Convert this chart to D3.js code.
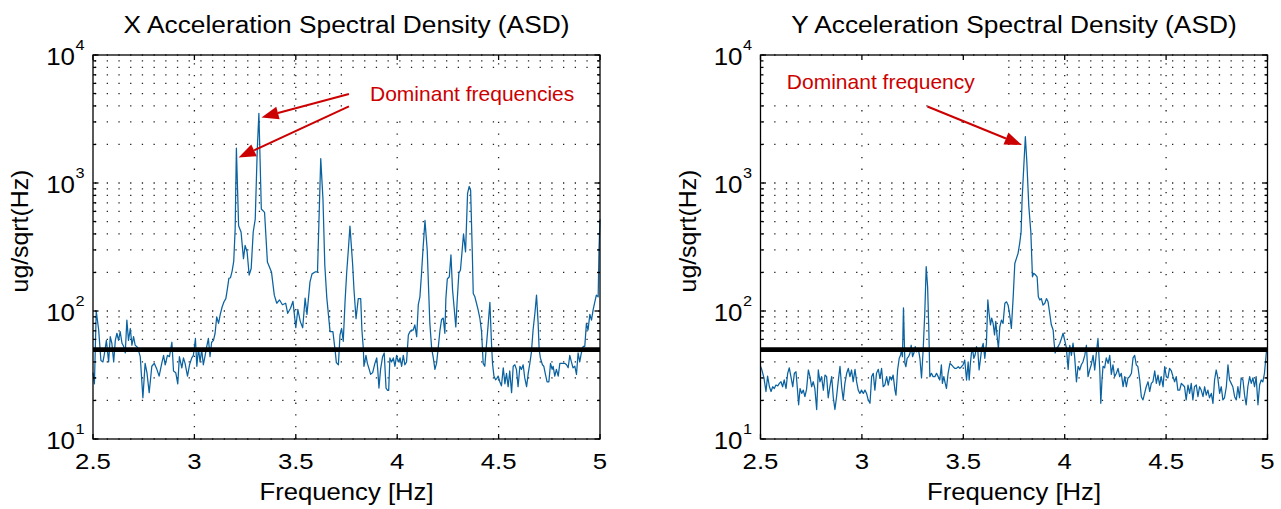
<!DOCTYPE html>
<html><head><meta charset="utf-8">
<script src="https://cdn.jsdelivr.net/npm/d3@7"></script>
<style>body{margin:0;background:#fff}svg{display:block}</style>
</head><body>
<svg id="c" width="1281" height="509"></svg>
<script>
// ---------- data ----------
const freqX = [2.500,2.507,2.516,2.528,2.539,2.549,2.556,2.566,2.577,2.585,2.593,2.602,2.610,2.618,2.626,2.634,2.643,2.651,2.659,2.667,2.675,2.684,2.692,2.700,2.708,2.720,2.733,2.746,2.757,2.766,2.777,2.790,2.802,2.815,2.826,2.839,2.848,2.856,2.867,2.877,2.889,2.897,2.908,2.918,2.926,2.938,2.946,2.954,2.966,2.976,2.987,2.995,3.005,3.012,3.020,3.028,3.036,3.044,3.053,3.061,3.069,3.077,3.085,3.094,3.102,3.110,3.119,3.128,3.137,3.146,3.155,3.163,3.170,3.178,3.186,3.194,3.201,3.207,3.218,3.230,3.242,3.250,3.260,3.270,3.280,3.290,3.300,3.310,3.318,3.330,3.346,3.360,3.380,3.394,3.406,3.420,3.434,3.450,3.460,3.474,3.486,3.500,3.510,3.522,3.534,3.546,3.555,3.570,3.580,3.595,3.607,3.623,3.634,3.643,3.653,3.669,3.683,3.694,3.700,3.710,3.718,3.726,3.734,3.743,3.751,3.759,3.767,3.780,3.787,3.797,3.808,3.820,3.826,3.833,3.836,3.846,3.853,3.862,3.869,3.879,3.890,3.899,3.904,3.910,3.918,3.928,3.936,3.945,3.953,3.958,3.964,3.972,3.981,3.989,3.997,4.005,4.014,4.022,4.030,4.038,4.046,4.055,4.063,4.071,4.079,4.087,4.096,4.104,4.112,4.120,4.128,4.137,4.148,4.155,4.161,4.170,4.178,4.186,4.194,4.202,4.211,4.219,4.227,4.235,4.240,4.247,4.257,4.265,4.273,4.281,4.289,4.296,4.304,4.312,4.319,4.327,4.337,4.347,4.355,4.362,4.370,4.375,4.383,4.391,4.399,4.408,4.416,4.424,4.432,4.440,4.449,4.457,4.465,4.470,4.477,4.485,4.490,4.498,4.506,4.514,4.523,4.531,4.539,4.547,4.555,4.564,4.572,4.580,4.588,4.596,4.605,4.613,4.621,4.629,4.638,4.646,4.654,4.662,4.670,4.679,4.687,4.695,4.700,4.706,4.716,4.723,4.731,4.739,4.748,4.756,4.764,4.769,4.777,4.785,4.794,4.802,4.810,4.818,4.826,4.835,4.843,4.851,4.859,4.867,4.876,4.884,4.892,4.900,4.908,4.917,4.925,4.933,4.941,4.950,4.958,4.966,4.974,4.982,4.991,4.995,5.000];
const asdX = [33,27,100,71,41,40,46,59,40,63,56,40,59,67,59,69,56,53,47,85,59,73,54,63,54,52,44,21,39,33,23,37,39,35,31,39,45,38,45,44,57,34,33,27,44,36,43,39,31,38,43,45,61,37,51,40,50,38,45,53,61,44,57,59,67,90,80,95,108,118,125,150,180,182,205,245,437,1870,464,414,256,325,289,191,215,414,523,1830,3500,627,589,241,202,133,115,122,112,115,96,105,119,74,103,83,74,126,94,169,195,202,202,1550,747,228,126,69,69,49,39.5,38,65,73,58,120,200,300,460,235,146,87,125,125,71,51,37,45,39,35,32,33,39,43,35,25,35,44,47,25,24,24,43,40,43,37,45,40,43,37,45,38,40,65,69,71,71,78,63,112,129,197,318,510,300,146,80,51,43,35,39,51,71,86,88,67,125,178,185,275,146,105,75,122,197,209,282,400,290,830,940,880,300,137,129,115,102,87,69,39,37,54,80,117,56,39,31,29,29.5,31,28,26,36,27,32.6,25.6,34,23,37,38,35,25.6,37,35,38,30,25.6,32.6,39,48,71,96,133,80,50,43,38,37,32,28,28,39,35,37,31,35,31,39,39,39,39,38,36,45,40,36,37,32,47,40,47,53,53,80,71,94,85,102,117,133,129,300,520];

const freqY = [2.500,2.506,2.517,2.527,2.535,2.544,2.552,2.560,2.568,2.576,2.585,2.593,2.601,2.609,2.617,2.626,2.634,2.642,2.650,2.659,2.667,2.675,2.683,2.688,2.695,2.703,2.711,2.719,2.727,2.736,2.744,2.752,2.760,2.768,2.777,2.785,2.793,2.801,2.810,2.818,2.826,2.834,2.842,2.851,2.859,2.867,2.875,2.883,2.892,2.900,2.908,2.916,2.925,2.933,2.941,2.949,2.957,2.966,2.974,2.982,2.990,2.998,3.007,3.015,3.023,3.031,3.040,3.048,3.056,3.064,3.072,3.081,3.089,3.097,3.105,3.113,3.122,3.130,3.138,3.146,3.154,3.163,3.168,3.176,3.184,3.191,3.195,3.200,3.205,3.212,3.217,3.223,3.230,3.237,3.243,3.250,3.256,3.263,3.269,3.278,3.286,3.294,3.302,3.310,3.317,3.324,3.330,3.335,3.343,3.351,3.360,3.368,3.376,3.384,3.392,3.397,3.404,3.411,3.417,3.425,3.434,3.442,3.450,3.458,3.466,3.475,3.483,3.491,3.499,3.507,3.516,3.524,3.529,3.535,3.540,3.545,3.552,3.558,3.565,3.572,3.578,3.585,3.591,3.598,3.606,3.614,3.621,3.627,3.634,3.640,3.647,3.654,3.660,3.667,3.673,3.680,3.688,3.696,3.705,3.713,3.721,3.729,3.737,3.746,3.754,3.762,3.770,3.778,3.785,3.790,3.800,3.806,3.813,3.823,3.833,3.841,3.847,3.857,3.864,3.870,3.877,3.885,3.893,3.902,3.910,3.918,3.926,3.934,3.943,3.948,3.953,3.959,3.967,3.976,3.984,3.992,4.000,4.008,4.017,4.025,4.033,4.041,4.049,4.058,4.066,4.074,4.082,4.090,4.099,4.107,4.115,4.123,4.131,4.140,4.148,4.156,4.164,4.173,4.178,4.184,4.189,4.197,4.205,4.214,4.222,4.230,4.238,4.246,4.255,4.263,4.271,4.279,4.288,4.296,4.304,4.312,4.320,4.329,4.337,4.345,4.353,4.361,4.370,4.378,4.386,4.394,4.402,4.411,4.419,4.427,4.435,4.444,4.452,4.460,4.468,4.476,4.485,4.493,4.501,4.509,4.517,4.526,4.534,4.542,4.550,4.558,4.567,4.575,4.583,4.591,4.599,4.608,4.616,4.624,4.632,4.640,4.649,4.657,4.665,4.673,4.682,4.690,4.698,4.706,4.714,4.723,4.731,4.739,4.747,4.755,4.764,4.772,4.780,4.788,4.797,4.805,4.813,4.821,4.829,4.838,4.846,4.854,4.862,4.870,4.879,4.887,4.895,4.903,4.912,4.920,4.928,4.936,4.944,4.953,4.961,4.969,4.977,4.985,4.994,5.000];
const asdY = [37,35,30,23.5,31,25.6,23.5,25.6,24.8,26.4,26,27.2,28,25.6,29,24.8,32.6,36,30.7,25.6,32.6,33.5,23.5,18.5,24.8,22.7,24.1,21.4,24.4,34.6,30.7,25.6,28,24.8,17,34.6,28,30.7,24.1,31.6,30.7,21,25.6,30.7,21,17,21.4,28,37,25.6,20.2,27.2,32.6,35.6,30.7,34.6,28,35,28,24.1,22.7,24.1,22.7,24.1,22.7,20.2,19,30.7,32.6,24.1,32.6,35,29.7,35.6,25.6,26.4,30.7,26.4,30.7,28.9,31.6,24.1,22,34.6,42.7,45.3,49.6,44,106,39,36.7,42.7,44,46.7,54,44,46.7,52.6,48,51,42.7,30,49.6,96,222,155,71,30.7,32.6,30.7,30.7,32.6,30.7,28.9,38,27.2,30.7,27.2,24.8,32.6,39,38,36.7,35.6,35.6,36.7,35.6,36.7,38,41.4,28.9,40,28.9,39,46.7,51,42.7,45.3,52.6,48,34.6,42.7,51,55.9,42.7,55.9,122,96,78,88,80,65,83,63,51,75,85,80,115,118,111,93,73,129,235,258,282,338,414,747,1524,2300,1500,660,414,185,197,191,185,129,122,125,111,115,125,118,96,78,71,56,47,51,52.6,56,61,67,59,52,35,54,45,56,44,28,37,34.6,38,40,45,54,30.7,34.6,38,45,34.6,47,61,34.6,19,29,37,36,43,39,45,32,38,30.7,32.6,35.6,30.7,32.6,25.6,30.7,25.6,30,30.7,32.6,43,45,38,36.7,28.9,21.4,20.2,22.7,25.6,28,23.5,27.2,28,34,27.2,31.6,26.4,30.7,25.6,36.7,30.7,30,35.6,34,30.7,28,30.7,24.1,24.1,27.2,26.4,25.6,20.2,26.4,22.7,27.2,20.2,25.6,26.4,21.4,25.6,24.1,21.4,25.6,22,24.1,21,22.7,19,28.9,34.6,30,22.7,25.6,20.2,21,25.6,38,28.9,27.2,25.6,21.4,20.2,25.6,21,30,28.9,22,18.5,25.6,30.7,27.2,30,25.6,30.7,18.5,26.4,28.9,28,32.6,47,52];

const xTickValues = [2.5, 3, 3.5, 4, 4.5, 5];
const xTickLabels = ["2.5", "3", "3.5", "4", "4.5", "5"];
const yTickValues = [10, 100, 1000, 10000];
const yTickExponents = ["1", "2", "3", "4"];
const xGridValues = [3, 3.5, 4, 4.5];
const threshold = 50;

const titles = ["X Acceleration Spectral Density (ASD)", "Y Acceleration Spectral Density (ASD)"];
const xLabel = "Frequency [Hz]";
const yLabel = "ug/sqrt(Hz)";

// annotations in data coordinates
const notesX = {text: "Dominant frequencies", at: [3.866, 4375], box: [[3.777, 7112], [4.985, 3590]],
  arrows: [[[3.762, 4955], [3.331, 3250]], [[3.762, 3963], [3.218, 1581]]]};
const notesY = {text: "Dominant frequency", at: [2.630, 5420], box: [[2.507, 9680], [3.704, 4445]],
  arrows: [[[3.323, 3963], [3.788, 1982]]]};

// ---------- drawing ----------
const svg = d3.select("#c");
const FONT = "'Liberation Sans', Arial, Helvetica, sans-serif";
const RED = "#cc0000";
const BLUE = "#0a62a0";

function txt(g, x, y, s, size, sx, anchor, rot) {
  return g.append("text")
    .attr("transform", `translate(${x},${y})` + (rot ? ` rotate(${rot})` : "") + ` scale(${sx},1)`)
    .attr("font-family", FONT).attr("font-size", size)
    .attr("text-anchor", anchor || "start").attr("fill", "#000").text(s);
}

function panel(left, right, freq, vals, title, notes) {
  const top = 55, bottom = 439;
  const x = d3.scaleLinear().domain([2.5, 5]).range([left, right]);
  const y = d3.scaleLog().domain([10, 10000]).range([bottom, top]);
  const g = svg.append("g");

  // grid
  const minor = [];
  [10, 100, 1000].forEach(d => { for (let k = 1; k <= 9; k++) minor.push(d * k); });
  minor.push(10000);
  const grid = g.append("g").attr("stroke", "#222").attr("stroke-width", 1.3)
    .attr("stroke-dasharray", "1.3,10.4");
  grid.selectAll("line.h").data(minor).join("line").attr("class", "h")
    .attr("x1", left + 2).attr("x2", right).attr("y1", d => y(d)).attr("y2", d => y(d));
  grid.selectAll("line.v").data(xGridValues).join("line").attr("class", "v")
    .attr("x1", d => x(d)).attr("x2", d => x(d)).attr("y1", bottom).attr("y2", top);

  // annotation white box
  const b = notes.box;
  g.append("rect").attr("x", x(b[0][0])).attr("y", y(b[0][1]))
    .attr("width", x(b[1][0]) - x(b[0][0])).attr("height", y(b[1][1]) - y(b[0][1]))
    .attr("fill", "#fff");

  // data line
  const line = d3.line().x((d, i) => x(freq[i])).y(d => y(d));
  g.append("path").attr("d", line(vals)).attr("fill", "none")
    .attr("stroke", BLUE).attr("stroke-width", 1.25).attr("stroke-linejoin", "round");

  // threshold
  g.append("line").attr("x1", x(2.5)).attr("x2", x(5)).attr("y1", y(threshold)).attr("y2", y(threshold))
    .attr("stroke", "#000").attr("stroke-width", 4.8);

  // axes box and ticks
  const ax = g.append("g").attr("stroke", "#000").attr("stroke-width", 1.3).attr("fill", "none");
  ax.append("rect").attr("x", left).attr("y", top).attr("width", right - left).attr("height", bottom - top);
  xTickValues.forEach(v => {
    ax.append("line").attr("x1", x(v)).attr("x2", x(v)).attr("y1", bottom).attr("y2", bottom - 5);
    ax.append("line").attr("x1", x(v)).attr("x2", x(v)).attr("y1", top).attr("y2", top + 5);
  });
  minor.forEach(v => {
    const major = yTickValues.includes(v);
    const L = major ? 5.5 : 3;
    ax.append("line").attr("x1", left).attr("x2", left + L).attr("y1", y(v)).attr("y2", y(v));
    ax.append("line").attr("x1", right).attr("x2", right - L).attr("y1", y(v)).attr("y2", y(v));
  });

  // tick labels
  xTickValues.forEach((v, i) => txt(g, x(v), 469, xTickLabels[i], 23, 1.12, "middle"));
  yTickValues.forEach((v, i) => {
    txt(g, left - 18, y(v) + 9.5, "10", 24, 1.08, "end");
    txt(g, left - 17.5, y(v) - 5, yTickExponents[i], 15.5, 1.05, "start");
  });

  // titles / labels
  txt(g, (left + right) / 2, 33, title, 23.5, 1.12, "middle");
  txt(g, (left + right) / 2, 500, xLabel, 24, 1.07, "middle");
  txt(g, left - 65, (top + bottom) / 2 - 16, yLabel, 23, 1.08, "middle", -90);

  // annotations
  const an = g.append("g");
  an.append("text").attr("x", x(notes.at[0])).attr("y", y(notes.at[1]))
    .attr("font-family", FONT).attr("font-size", 21).attr("fill", RED).text(notes.text);
  notes.arrows.forEach(a => {
    const x0 = x(a[0][0]), y0 = y(a[0][1]), x1 = x(a[1][0]), y1 = y(a[1][1]);
    const ang = Math.atan2(y1 - y0, x1 - x0);
    const hl = 17, hw = 6.5;
    const bx = x1 - hl * Math.cos(ang), by = y1 - hl * Math.sin(ang);
    an.append("line").attr("x1", x0).attr("y1", y0).attr("x2", bx).attr("y2", by)
      .attr("stroke", RED).attr("stroke-width", 2);
    const px = -Math.sin(ang) * hw, py = Math.cos(ang) * hw;
    an.append("polygon").attr("points", `${x1},${y1} ${bx + px},${by + py} ${bx - px},${by - py}`)
      .attr("fill", RED);
  });
}

panel(93, 600, freqX, asdX, titles[0], notesX);
panel(760.5, 1267.5, freqY, asdY, titles[1], notesY);
</script>
</body></html>
